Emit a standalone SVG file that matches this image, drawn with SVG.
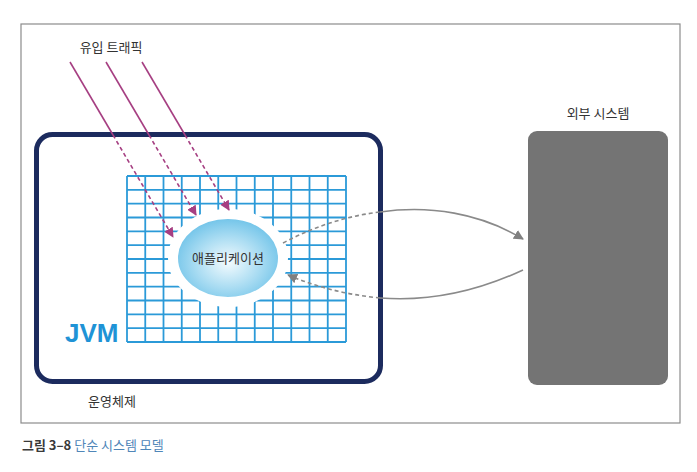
<svg xmlns="http://www.w3.org/2000/svg" width="697" height="472" viewBox="0 0 697 472">
<defs>
<style>
.lbl{font-family:"Noto Sans CJK KR","Liberation Sans",sans-serif;font-size:13px;fill:#333;}
.grid line{stroke:#2b9ad8;stroke-width:1.8;}
.traffic{stroke:#a63f82;stroke-width:1.6;fill:none;}
.dash{stroke-dasharray:4 3;}
.flow{stroke:#8a8a8a;stroke-width:1.6;fill:none;}
</style>
<marker id="mag" viewBox="0 0 10 10" refX="9" refY="5" markerWidth="10" markerHeight="10" markerUnits="userSpaceOnUse" orient="auto">
<path d="M0,0 L10,5 L0,10 Z" fill="#a63f82"/>
</marker>
<marker id="gry" viewBox="0 0 10 10" refX="9" refY="5" markerWidth="10" markerHeight="10" markerUnits="userSpaceOnUse" orient="auto">
<path d="M0,0 L10,5 L0,10 Z" fill="#808080"/>
</marker>
<radialGradient id="appg" cx="0.5" cy="0.55" r="0.55">
<stop offset="0" stop-color="#f4fbfe"/>
<stop offset="0.5" stop-color="#aedef3"/>
<stop offset="1" stop-color="#66bfe7"/>
</radialGradient>
</defs>
<rect width="697" height="472" fill="#fff"/>
<rect x="21" y="24" width="659" height="399" fill="none" stroke="#8c8c8c" stroke-width="1.2"/>

<g id="os">
<rect x="36.5" y="134.5" width="344" height="247" rx="16" fill="#fff" stroke="#1c2b5e" stroke-width="5"/>
<text class="lbl" x="112" y="406" text-anchor="middle">운영체제</text>
</g>

<g id="jvm">
<g class="grid">
<line x1="127" y1="176" x2="127" y2="342" stroke-width="2.6"/>
<line x1="145.25" y1="176" x2="145.25" y2="342"/>
<line x1="163.5" y1="176" x2="163.5" y2="342"/>
<line x1="181.75" y1="176" x2="181.75" y2="342"/>
<line x1="200" y1="176" x2="200" y2="342"/>
<line x1="218.25" y1="176" x2="218.25" y2="342"/>
<line x1="236.5" y1="176" x2="236.5" y2="342"/>
<line x1="254.75" y1="176" x2="254.75" y2="342"/>
<line x1="273" y1="176" x2="273" y2="342"/>
<line x1="291.25" y1="176" x2="291.25" y2="342"/>
<line x1="309.5" y1="176" x2="309.5" y2="342"/>
<line x1="327.75" y1="176" x2="327.75" y2="342"/>
<line x1="346" y1="176" x2="346" y2="342" stroke-width="2.6"/>
<line x1="127" y1="176" x2="346" y2="176" stroke-width="2.6"/>
<line x1="127" y1="189.83" x2="346" y2="189.83"/>
<line x1="127" y1="203.67" x2="346" y2="203.67"/>
<line x1="127" y1="217.5" x2="346" y2="217.5"/>
<line x1="127" y1="231.33" x2="346" y2="231.33"/>
<line x1="127" y1="245.17" x2="346" y2="245.17"/>
<line x1="127" y1="259" x2="346" y2="259"/>
<line x1="127" y1="272.83" x2="346" y2="272.83"/>
<line x1="127" y1="286.67" x2="346" y2="286.67"/>
<line x1="127" y1="300.5" x2="346" y2="300.5"/>
<line x1="127" y1="314.33" x2="346" y2="314.33"/>
<line x1="127" y1="328.17" x2="346" y2="328.17"/>
<line x1="127" y1="342" x2="346" y2="342" stroke-width="2.6"/>
</g>
<text x="65" y="342" font-family="'Liberation Sans',Arial,sans-serif" font-weight="bold" font-size="26" fill="#1f93d6">JVM</text>
</g>

<g id="app">
<ellipse cx="228" cy="258" rx="55" ry="44" fill="url(#appg)" stroke="#fff" stroke-width="10"/>
<text class="lbl" x="228" y="263" text-anchor="middle">애플리케이션</text>
</g>

<g id="external">
<text class="lbl" x="598" y="118" text-anchor="middle">외부 시스템</text>
<rect x="528" y="131" width="140" height="254" rx="9" fill="#747474"/>
</g>

<g id="traffic-label">
<text class="lbl" x="111" y="52" text-anchor="middle">유입 트래픽</text>
</g>

<g id="connectors">
<path class="traffic" d="M70,62 L113,135"/>
<path class="traffic dash" d="M113,135 L173,237" marker-end="url(#mag)"/>
<path class="traffic" d="M106,62 L149,135"/>
<path class="traffic dash" d="M149,135 L196,215" marker-end="url(#mag)"/>
<path class="traffic" d="M142,62 L185,135"/>
<path class="traffic dash" d="M185,135 L229,210" marker-end="url(#mag)"/>
<path class="flow dash" d="M283,243 Q330,218 380,212"/>
<path class="flow" d="M380,212 C430,205 480,213 523,239" marker-end="url(#gry)"/>
<path class="flow" d="M523,270 C480,290 430,302 380,298"/>
<path class="flow dash" d="M380,298 Q330,293 288,275" marker-end="url(#gry)"/>
</g>

<g id="caption">
<text x="22" y="450" font-family="'Noto Sans CJK KR','Liberation Sans',sans-serif" font-size="13"><tspan font-weight="bold" fill="#3a3a3a">그림 3–8</tspan><tspan fill="#4f86b8"> 단순 시스템 모델</tspan></text>
</g>
</svg>
